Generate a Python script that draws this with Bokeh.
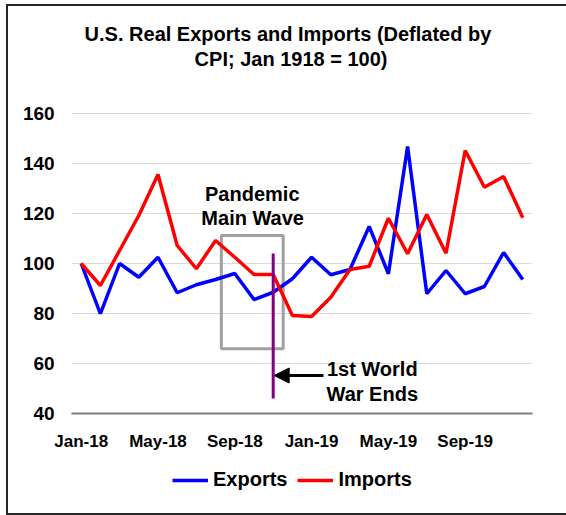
from bokeh.plotting import figure
from bokeh.models import (Range1d, FixedTicker, Label, Arrow, NormalHead,
                          Legend, LegendItem)
from bokeh.embed import file_html
from bokeh.resources import INLINE

months = ["Jan-18", "Feb-18", "Mar-18", "Apr-18", "May-18", "Jun-18",
          "Jul-18", "Aug-18", "Sep-18", "Oct-18", "Nov-18", "Dec-18",
          "Jan-19", "Feb-19", "Mar-19", "Apr-19", "May-19", "Jun-19",
          "Jul-19", "Aug-19", "Sep-19", "Oct-19", "Nov-19", "Dec-19"]
exports = [100.0, 79.9, 100.0, 94.5, 102.5, 88.3, 91.5, 93.6, 96.0, 85.6,
           88.5, 93.9, 102.5, 95.5, 97.6, 114.8, 95.9, 146.8, 87.9, 97.2,
           87.9, 90.8, 104.4, 93.6]
imports = [100.0, 91.2, 105.2, 119.2, 135.6, 107.2, 97.9, 109.2, 102.5,
           95.6, 95.6, 79.2, 78.8, 86.5, 97.6, 98.9, 118.1, 103.9, 119.6,
           104.1, 145.2, 130.5, 134.8, 118.3]
tick_months = ["Jan-18", "May-18", "Sep-18", "Jan-19", "May-19", "Sep-19"]
y_ticks = [40, 60, 80, 100, 120, 140, 160]
title_lines = ["U.S. Real Exports and Imports (Deflated by",
               "CPI; Jan 1918 = 100)"]

FONT = "Liberation Sans"
x = list(range(len(months)))
x_lo, x_hi = -0.5, len(months) - 0.5

p = figure(width=560, height=511, x_range=Range1d(-3.786, 25.38),
           y_range=Range1d(-1.6, 202.8), output_backend="svg",
           toolbar_location=None, min_border_left=0, min_border_right=0,
           min_border_top=0, min_border_bottom=0, margin=(4, 0, 0, 6),
           styles={"border-left": "2px solid #262626",
                   "border-top": "2px solid #262626",
                   "border-bottom": "2px solid #262626",
                   "border-right": "0px none white"})
p.outline_line_color = None
p.background_fill_color = "white"
p.border_fill_color = "white"
p.title.visible = False
p.xgrid.grid_line_color = None
p.ygrid.grid_line_color = None

# horizontal gridlines over the plot area
p.segment(x0=[x_lo] * len(y_ticks), x1=[x_hi] * len(y_ticks),
          y0=y_ticks, y1=y_ticks, line_color="#d9d9d9", line_width=1)

# axes
tick_pos = [months.index(m) for m in tick_months]
p.xaxis.fixed_location = y_ticks[0]
p.xaxis.bounds = (x_lo, x_hi)
p.xaxis.ticker = FixedTicker(ticks=tick_pos)
p.xaxis.major_label_overrides = {i: m for i, m in zip(tick_pos, tick_months)}
p.xaxis.major_tick_line_color = None
p.xaxis.minor_tick_line_color = None
p.xaxis.axis_line_color = "#7f7f7f"
p.xaxis.axis_line_width = 2
p.xaxis.major_label_text_font = FONT
p.xaxis.major_label_text_font_style = "bold"
p.xaxis.major_label_text_font_size = "17px"
p.xaxis.major_label_text_color = "black"
p.xaxis.major_label_standoff = 12

p.yaxis.fixed_location = x_lo
p.yaxis.bounds = (y_ticks[0], y_ticks[-1])
p.yaxis.ticker = FixedTicker(ticks=y_ticks)
p.yaxis.axis_line_color = None
p.yaxis.major_tick_line_color = None
p.yaxis.minor_tick_line_color = None
p.yaxis.major_label_text_font = FONT
p.yaxis.major_label_text_font_style = "bold"
p.yaxis.major_label_text_font_size = "19px"
p.yaxis.major_label_text_color = "black"
p.yaxis.major_label_standoff = 11

# pandemic box
p.quad(left=[7.3], right=[10.52], bottom=[65.9], top=[111.2],
       fill_color=None, line_color="#a0a0a0", line_width=3)

r_exp = p.line(x, exports, line_color="#0000ff", line_width=3.5)
r_imp = p.line(x, imports, line_color="#ff0000", line_width=3.5)

# war end line and arrow
p.segment(x0=[10], y0=[46], x1=[10], y1=[104], line_color="#800080",
          line_width=3)
p.add_layout(Arrow(end=NormalHead(size=15, fill_color="black",
                                  line_color="black"),
                   x_start=12.62, y_start=55.2, x_end=10.05, y_end=55.2,
                   line_color="black", line_width=3))

def lab(txt, xx, yy, size):
    p.add_layout(Label(x=xx, y=yy, text=txt, text_align="center",
                       text_baseline="middle", text_font=FONT,
                       text_font_style="bold", text_font_size=size,
                       text_color="black"))

lab(title_lines[0], 10.77, 192, "20px")
lab(title_lines[1], 10.93, 182, "20px")
lab("Pandemic", 8.91, 128, "20px")
lab("Main Wave", 8.93, 118.4, "20px")
lab("1st World", 15.16, 58, "20px")
lab("War Ends", 15.16, 48, "20px")

legend = Legend(items=[LegendItem(label="Exports", renderers=[r_exp]),
                       LegendItem(label="Imports", renderers=[r_imp])],
                orientation="horizontal", location=(164, 26),
                glyph_width=36, glyph_height=20, label_standoff=5,
                spacing=10, padding=2, margin=0,
                label_text_font=FONT, label_text_font_style="bold",
                label_text_font_size="20px", label_text_color="black",
                border_line_color=None, background_fill_alpha=0)
p.add_layout(legend)

open("out.html", "w").write(file_html(p, INLINE))
